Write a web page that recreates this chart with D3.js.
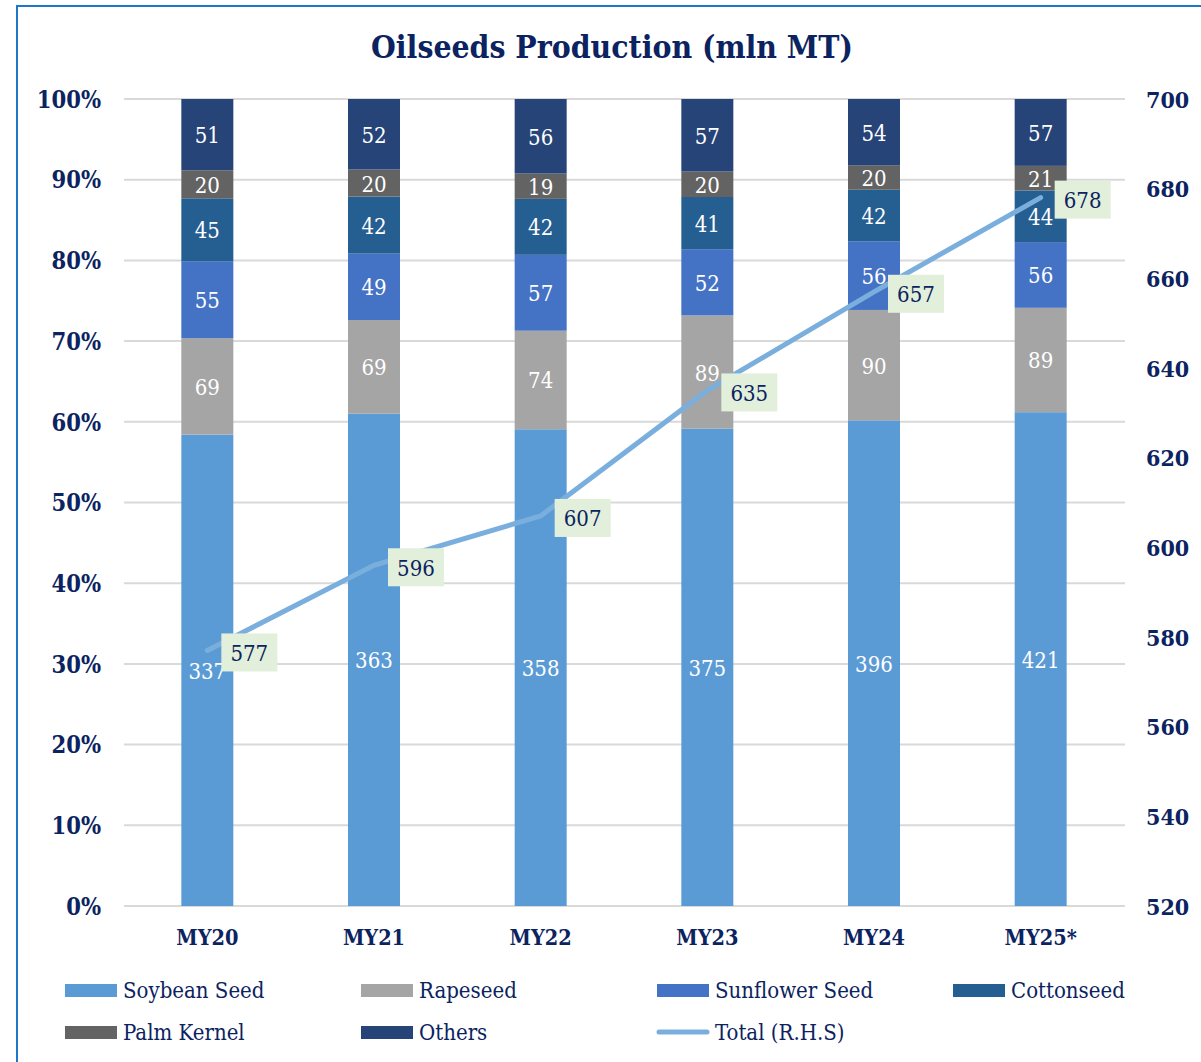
<!DOCTYPE html>
<html><head><meta charset="utf-8">
<script src="https://cdn.jsdelivr.net/npm/d3@7"></script>
<style>
html,body{margin:0;padding:0;background:#fff;}
svg{display:block;}
</style></head>
<body><svg id="c" width="1201" height="1062"></svg>
<script>
const categories = ["MY20","MY21","MY22","MY23","MY24","MY25*"];
const seriesNames = ["Soybean Seed","Rapeseed","Sunflower Seed","Cottonseed","Palm Kernel","Others"];
const soybean   = [337,363,358,375,396,421];
const rapeseed  = [69,69,74,89,90,89];
const sunflower = [55,49,57,52,56,56];
const cottonseed= [45,42,42,41,42,44];
const palmKernel= [20,20,19,20,20,21];
const others    = [51,52,56,57,54,57];
const total     = [577,596,607,635,657,678];
const leftTicks = [0,0.1,0.2,0.3,0.4,0.5,0.6,0.7,0.8,0.9,1];
const rightTicks= [520,540,560,580,600,620,640,660,680,700];
const colors = ["#5b9bd5","#a5a5a5","#4472c4","#255e91","#636363","#264478"];

const FONT = "'DejaVu Serif Condensed','DejaVu Serif',serif";
const NAVY = "#0b2360";
const svg = d3.select("#c");

// frame
svg.append("rect").attr("x",17).attr("y",6).attr("width",1200).attr("height",1100)
  .attr("fill","none").attr("stroke","#1f77c9").attr("stroke-width",2);

svg.append("text").attr("x",612).attr("y",58).attr("text-anchor","middle")
  .attr("font-family",FONT).attr("font-weight","bold").attr("font-size",31.6)
  .attr("fill",NAVY).text("Oilseeds Production (mln MT)");

const x = d3.scaleBand().domain(categories).range([124,1124]).paddingInner(0.688).paddingOuter(0.344);
const y = d3.scaleLinear().domain([0,1]).range([906,99]);
const y2 = d3.scaleLinear().domain([520,700]).range([906,99]);

// gridlines
svg.append("g").selectAll("line").data(leftTicks).join("line")
  .attr("x1",124).attr("x2",1125).attr("y1",d=>y(d)).attr("y2",d=>y(d))
  .attr("stroke","#d9d9d9").attr("stroke-width",2);

// data table
const rows = categories.map((c,i)=>{
  const vals=[soybean[i],rapeseed[i],sunflower[i],cottonseed[i],palmKernel[i],others[i]];
  const s=d3.sum(vals);
  const o={cat:c,sum:s};
  seriesNames.forEach((n,j)=>{o[n]=vals[j]/s; o[n+"_v"]=vals[j];});
  return o;
});
const stack = d3.stack().keys(seriesNames)(rows);

const gBars = svg.append("g");
stack.forEach((layer,j)=>{
  const g=gBars.append("g");
  g.selectAll("rect").data(layer).join("rect")
    .attr("x",d=>x(d.data.cat)).attr("width",x.bandwidth())
    .attr("y",d=>y(d[1])).attr("height",d=>y(d[0])-y(d[1]))
    .attr("fill",colors[j]);
  g.selectAll("text").data(layer).join("text")
    .attr("x",d=>x(d.data.cat)+x.bandwidth()/2)
    .attr("y",d=>(y(d[0])+y(d[1]))/2+8.5)
    .attr("text-anchor","middle").attr("fill","#fff")
    .attr("font-family",FONT).attr("font-size",22)
    .text(d=>d.data[layer.key+"_v"]);
});

// axes
const axL = d3.axisLeft(y).tickValues(leftTicks).tickFormat(d3.format(".0%")).tickSize(0).tickPadding(0);
const gL = svg.append("g").attr("transform","translate(101,0)").call(axL);
gL.select(".domain").remove();
gL.selectAll("text").attr("font-family",FONT).attr("font-weight","bold").attr("font-size",23.5).attr("fill",NAVY).attr("dy","0.35em");

const axR = d3.axisRight(y2).tickValues(rightTicks).tickSize(0).tickPadding(0);
const gR = svg.append("g").attr("transform","translate(1146,0)").call(axR);
gR.select(".domain").remove();
gR.selectAll("text").attr("font-family",FONT).attr("font-weight","bold").attr("font-size",23).attr("fill",NAVY).attr("dy","0.35em");

const axB = d3.axisBottom(x).tickSize(0).tickPadding(0);
const gB = svg.append("g").attr("transform","translate(0,930)").call(axB);
gB.select(".domain").remove();
gB.selectAll("text").attr("font-family",FONT).attr("font-weight","bold").attr("font-size",21.5).attr("fill",NAVY).attr("dy","0.71em");

// total line
const line = d3.line().x((d,i)=>x(categories[i])+x.bandwidth()/2).y(d=>y2(d));
svg.append("path").datum(total).attr("d",line).attr("fill","none")
  .attr("stroke","#7aafdd").attr("stroke-width",5).attr("stroke-linecap","round");

const lab = svg.append("g").selectAll("g").data(total).join("g")
  .attr("transform",(d,i)=>`translate(${x(categories[i])+x.bandwidth()/2+14},${y2(d)+2})`);
lab.append("rect").attr("x",0).attr("y",-19).attr("width",56).attr("height",38).attr("fill","#e2efda");
lab.append("text").attr("x",28).attr("y",8.5).attr("text-anchor","middle")
  .attr("font-family",FONT).attr("font-size",22).attr("fill",NAVY).text(d=>d);

// legend
const legItems = [
  {name:"Soybean Seed",c:colors[0],t:"rect",col:0,row:0},
  {name:"Rapeseed",c:colors[1],t:"rect",col:1,row:0},
  {name:"Sunflower Seed",c:colors[2],t:"rect",col:2,row:0},
  {name:"Cottonseed",c:colors[3],t:"rect",col:3,row:0},
  {name:"Palm Kernel",c:colors[4],t:"rect",col:0,row:1},
  {name:"Others",c:colors[5],t:"rect",col:1,row:1},
  {name:"Total (R.H.S)",c:"#7aafdd",t:"line",col:2,row:1}
];
const lg = svg.append("g").selectAll("g").data(legItems).join("g")
  .attr("transform",d=>`translate(${65+d.col*296},${990+d.row*42})`);
lg.filter(d=>d.t==="rect").append("rect").attr("x",0).attr("y",-6).attr("width",52).attr("height",13).attr("fill",d=>d.c);
lg.filter(d=>d.t==="line").append("line").attr("x1",2).attr("x2",50).attr("y1",0).attr("y2",0)
  .attr("stroke",d=>d.c).attr("stroke-width",5).attr("stroke-linecap","round");
lg.append("text").attr("x",58).attr("y",8)
  .attr("font-family",FONT).attr("font-size",22).attr("fill",NAVY).text(d=>d.name);
</script></body></html>
